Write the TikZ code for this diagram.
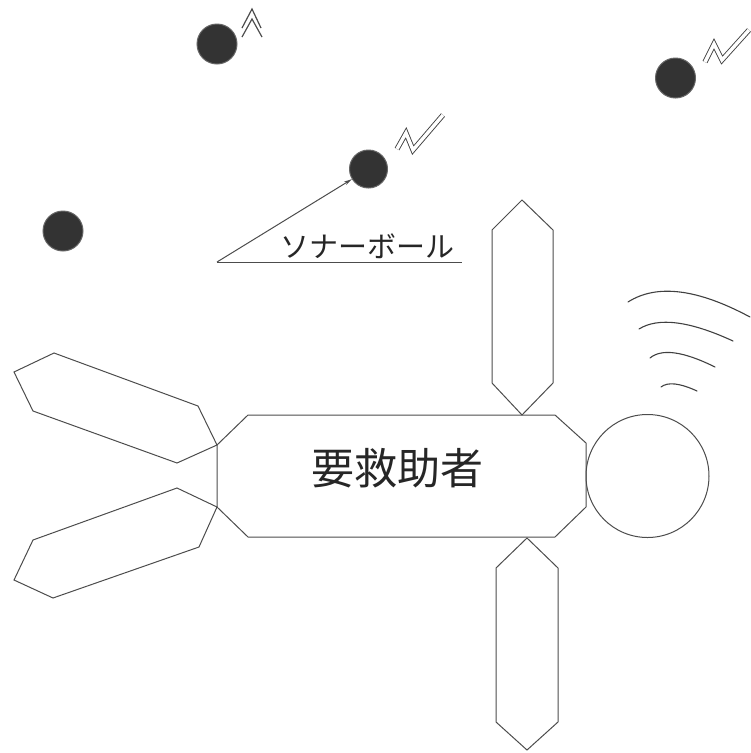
\documentclass[tikz,border=0pt]{standalone}
\usepackage{fontspec}
\newfontfamily\jpfont{Noto Sans CJK JP}
\usetikzlibrary{arrows.meta,positioning}

\begin{document}
\begin{tikzpicture}[x=1pt, y=-1pt, line width=1pt,
    outline/.style={draw=black!70, line join=miter},
    ball/.style={circle, fill=black!80, draw=black!60, minimum size=40pt, inner sep=0pt},
    signal/.style={draw=black!75, double=white, double distance=3.4pt, line width=0.9pt},
    wave/.style={draw=black!75, line width=1.1pt, line cap=round}]
    \useasboundingbox (0,0) rectangle (751,753);

    % Body
    \draw[outline] (248,415) -- (555,415) -- (586,443) -- (586,507) -- (555,537)
        -- (248,537) -- (217,507) -- (217,445) -- cycle;
    \node[font=\jpfont\fontsize{43}{43}\selectfont, text=black!85] (victim) at (397,468) {要救助者};

    % Arms
    \draw[outline] (522,200) -- (553,230) -- (553,383) -- (522,415) -- (492,383) -- (492,230) -- cycle;
    \draw[outline] (527,538) -- (558,568) -- (558,722) -- (527,750) -- (496,722) -- (496,568) -- cycle;

    % Legs
    \draw[outline] (14,372) -- (54,353) -- (198,406) -- (217,445) -- (177,463) -- (33,411) -- cycle;
    \draw[outline] (177,488) -- (217,507) -- (199,547) -- (53,598) -- (14,580) -- (33,540) -- cycle;

    % Head and voice
    \node[circle, draw=black!70, minimum size=123pt, inner sep=0pt] (head) at (647.5,476) {};
    \draw[wave] (628,302) .. controls (656.7,283.7) and (697.3,288.7) .. (750,317);
    \draw[wave] (639,329) .. controls (658.3,317) and (689.7,321) .. (733,341);
    \draw[wave] (650,358) .. controls (661.7,348.3) and (683.3,351.3) .. (715,367);
    \draw[wave] (661,387) .. controls (667.7,381.7) and (679.7,383) .. (697,391);

    % Sonar balls
    \node[ball] (ball1) at (217,44) {};
    \node[ball] (ball2) at (675.5,78) {};
    \node[ball, minimum size=38pt] (ball3) at (368.5,169) {};
    \node[ball] (ball4) at (63,231) {};

    % Signals
    \draw[outline, line width=1.2pt] (242,28) -- (252,9) -- (261,28);
    \draw[outline, line width=1.2pt] (242,37) -- (252,19) -- (262,37);
    \draw[signal] (705,62) -- (714,44) -- (722,60) -- (749,30);
    \draw[signal] (397,149) -- (406,133) -- (413,150) -- (443,115);

    % Label with pointer
    \coordinate (corner) at (217,262);
    \coordinate (rule end) at (462,262);
    \draw[outline] (corner) -- (rule end);
    \draw[outline, -{Stealth[length=8pt,width=4pt]}] (corner) -- (ball3);
    \node[font=\jpfont\fontsize{29}{29}\selectfont, text=black!85] (sonar) at (367,246) {ソナーボール};
\end{tikzpicture}
\end{document}
